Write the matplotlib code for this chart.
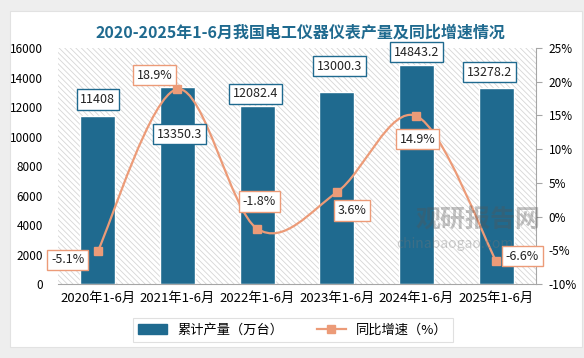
import matplotlib
matplotlib.use("Agg")
import matplotlib.pyplot as plt
from matplotlib.path import Path
from matplotlib.patches import PathPatch, Rectangle
from matplotlib.lines import Line2D

plt.rcParams['font.family'] = ['Noto Sans CJK SC', 'DejaVu Sans']
plt.rcParams['hatch.linewidth'] = 0.6
plt.rcParams['axes.unicode_minus'] = False

# 数据
categorias = ["2020年1-6月", "2021年1-6月", "2022年1-6月",
              "2023年1-6月", "2024年1-6月", "2025年1-6月"]
producao = [11408, 13350.3, 12082.4, 13000.3, 14843.2, 13278.2]
crescimento = [-5.1, 18.9, -1.8, 3.6, 14.9, -6.6]

cor_barra = "#1f6a8f"
cor_linha = "#ec9b78"

fig = plt.figure(figsize=(5.84, 3.58), dpi=100, facecolor="#eeeeee")
# painel branco
fig.patches.append(Rectangle((10 / 584, 1 - 347 / 358), 572 / 584, 336 / 358,
                             transform=fig.transFigure, facecolor="white",
                             edgecolor="#e2e2e2", lw=0.8, zorder=-5))

ax = fig.add_axes([58 / 584, 1 - 284 / 358, 478 / 584, 236 / 358])
ax.set_facecolor("none")
ax.add_patch(Rectangle((0, 0), 1, 1, transform=ax.transAxes, fill=False,
                       hatch="\\\\\\\\\\\\", edgecolor="#d6d6d6", lw=0, zorder=0))

x = list(range(len(categorias)))
ax.bar(x, producao, width=0.44, color=cor_barra, edgecolor="white", lw=1, zorder=2)
ax.set_xlim(-0.5, len(categorias) - 0.5)
ax.set_ylim(0, 16000)
ax.set_yticks(range(0, 16001, 2000))
ax.set_xticks(x)
ax.set_xticklabels(categorias, fontsize=9.5)
ax.tick_params(axis="y", length=0, pad=11, labelsize=8.5)
ax.tick_params(axis="x", length=0, pad=6)
for s in ["top", "left", "right"]:
    ax.spines[s].set_visible(False)
ax.spines["bottom"].set_color("#a6a6a6")

ax2 = ax.twinx()
ax2.set_ylim(-10, 25)
ax2.set_yticks(range(-10, 26, 5))
ax2.set_yticklabels([f"{v}%" for v in range(-10, 26, 5)])
ax2.tick_params(axis="y", length=4, color="#a6a6a6", pad=5, labelsize=8.5)
for s in ["top", "left", "bottom"]:
    ax2.spines[s].set_visible(False)
ax2.spines["right"].set_color("#a6a6a6")

# linha suavizada (bezier entre os pontos)
pts = list(zip(x, crescimento))
verts = [pts[0]]
codes = [Path.MOVETO]
for i in range(len(pts) - 1):
    p0 = pts[i - 1] if i > 0 else pts[i]
    p1 = pts[i]
    p2 = pts[i + 1]
    p3 = pts[i + 2] if i + 2 < len(pts) else pts[i + 1]
    c1 = (p1[0] + (p2[0] - p0[0]) / 6, p1[1] + (p2[1] - p0[1]) / 6)
    c2 = (p2[0] - (p3[0] - p1[0]) / 6, p2[1] - (p3[1] - p1[1]) / 6)
    verts += [c1, c2, p2]
    codes += [Path.CURVE4] * 3
ax2.add_patch(PathPatch(Path(verts, codes), fill=False, edgecolor=cor_linha,
                        lw=1.6, zorder=3))
ax2.plot(x, crescimento, ls="none", marker="s", ms=6, color=cor_linha, zorder=4)

# marca d'água (por cima das barras, por baixo dos rótulos)
ax2.text((478 - 58) / 478, (284 - 220) / 236, "观研报告网", transform=ax2.transAxes,
         ha="center", va="center", fontsize=18, fontweight="bold",
         color="#555555", alpha=0.35, zorder=5)
ax2.text((455 - 58) / 478, (284 - 244) / 236, "chinabaogao.com", transform=ax2.transAxes,
         ha="center", va="center", fontsize=10, color="#777777", alpha=0.35, zorder=5)

# rótulos das barras
off_barras = [(0, 16), (2, -47), (-2, 12), (3, 26), (0, 13), (-7, 16)]
for xi, v, (dx, dy) in zip(x, producao, off_barras):
    txt = f"{v:g}"
    ax2.annotate(txt, (xi, (v / 16000) * 35 - 10), xytext=(dx, dy),
                 textcoords="offset pixels", ha="center", va="center",
                 fontsize=9, color="#222222", zorder=6,
                 bbox=dict(boxstyle="square,pad=0.3", fc="white",
                           ec=cor_barra, lw=1))

# rótulos da linha
off_linha = [(-30, -9), (-23, 14), (2, 27), (15, -18), (1, -23), (26, 5)]
for xi, v, (dx, dy) in zip(x, crescimento, off_linha):
    ax2.annotate(f"{v}%", (xi, v), xytext=(dx, dy),
                 textcoords="offset pixels", ha="center", va="center",
                 fontsize=9, color="#222222", zorder=6,
                 bbox=dict(boxstyle="square,pad=0.3", fc="white",
                           ec=cor_linha, lw=1))

fig.text(300 / 584, 1 - 33 / 358, "2020-2025年1-6月我国电工仪器仪表产量及同比增速情况",
         ha="center", va="center", fontsize=11.5, fontweight="bold", color=cor_barra)

handles = [Rectangle((0, 0), 1, 1, color=cor_barra),
           Line2D([], [], color=cor_linha, lw=1.6, marker="s", ms=6)]
leg = fig.legend(handles, ["累计产量（万台）", "同比增速（%）"], ncol=2,
                 loc="center", bbox_to_anchor=(293 / 584, 1 - 330 / 358),
                 fontsize=9.5, frameon=True, fancybox=False, edgecolor="#d9d9d9",
                 handlelength=2.2, columnspacing=2.5, borderpad=0.4)
leg.get_frame().set_linewidth(0.8)

plt.savefig("out.png", dpi=100, facecolor=fig.get_facecolor())
